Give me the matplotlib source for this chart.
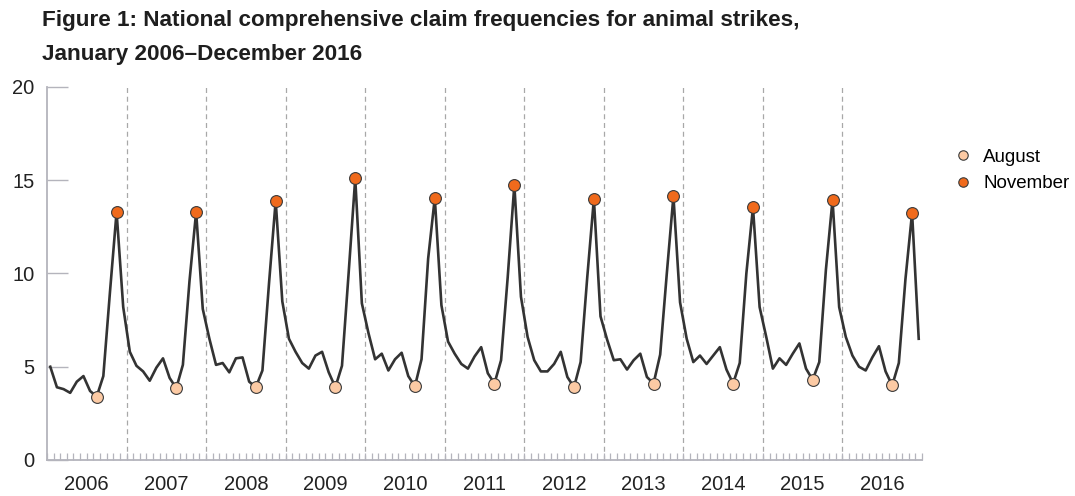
import matplotlib
matplotlib.use("Agg")
import matplotlib.pyplot as plt
import numpy as np

# ---------------------------------------------------------------------------
# Data: monthly claim frequencies, January 2006 - December 2016
# ---------------------------------------------------------------------------

YEARS = [2006, 2007, 2008, 2009, 2010, 2011, 2012, 2013, 2014, 2015, 2016]

CLAIMS = [
    5.0, 3.9, 3.8, 3.6, 4.2, 4.5, 3.7, 3.4, 4.5, 9.0, 13.3, 8.2,        # 2006
    5.8, 5.05, 4.75, 4.25, 4.95, 5.45, 4.4, 3.85, 5.1, 9.6, 13.3, 8.1,  # 2007
    6.5, 5.1, 5.2, 4.7, 5.45, 5.5, 4.2, 3.9, 4.8, 9.5, 13.9, 8.5,       # 2008
    6.5, 5.8, 5.2, 4.9, 5.6, 5.8, 4.7, 3.9, 5.05, 10.0, 15.1, 8.4,      # 2009
    6.8, 5.4, 5.7, 4.8, 5.4, 5.75, 4.5, 3.95, 5.4, 10.8, 14.05, 8.3,    # 2010
    6.35, 5.7, 5.15, 4.9, 5.55, 6.05, 4.65, 4.1, 5.35, 9.8, 14.75, 8.75,  # 2011
    6.6, 5.35, 4.75, 4.75, 5.15, 5.8, 4.45, 3.9, 5.25, 9.8, 14.0, 7.7,  # 2012
    6.45, 5.35, 5.4, 4.85, 5.35, 5.7, 4.45, 4.1, 5.65, 10.0, 14.15, 8.45,  # 2013
    6.5, 5.25, 5.6, 5.15, 5.6, 6.05, 4.85, 4.1, 5.2, 10.0, 13.55, 8.2,  # 2014
    6.6, 4.9, 5.45, 5.1, 5.7, 6.25, 4.9, 4.3, 5.25, 10.2, 13.95, 8.2,   # 2015
    6.6, 5.6, 5.0, 4.8, 5.5, 6.1, 4.75, 4.0, 5.2, 9.7, 13.25, 6.5,      # 2016
]

Y_TICKS = [0, 5, 10, 15, 20]
AUGUST, NOVEMBER = 7, 10  # month index within a year

LINE_COLOR = "#333333"
AXIS_COLOR = "#b4b4bc"
AUG_COLOR = "#fccaa4"
NOV_COLOR = "#f06a1c"

plt.rcParams["font.family"] = ["Liberation Sans", "DejaVu Sans"]

# ---------------------------------------------------------------------------
# Figure
# ---------------------------------------------------------------------------

fig = plt.figure(figsize=(10.75, 4.96), dpi=100)
ax = fig.add_axes([0.0437, 0.0726, 0.814, 0.752])

claims = np.array(CLAIMS)
months = np.arange(len(claims))
n_years = len(YEARS)

ax.plot(months, claims, color=LINE_COLOR, linewidth=1.9, zorder=3)

aug_idx = months[months % 12 == AUGUST]
nov_idx = months[months % 12 == NOVEMBER]
ax.plot(aug_idx, claims[aug_idx], "o", ms=8.5, mfc=AUG_COLOR, mec="#3a3a3a",
        mew=0.8, zorder=4, linestyle="none", label="August")
ax.plot(nov_idx, claims[nov_idx], "o", ms=8.5, mfc=NOV_COLOR, mec="#3a3a3a",
        mew=0.8, zorder=4, linestyle="none", label="November")

# year separators
for k in range(1, n_years):
    ax.axvline(12 * k - 0.5, color="#a8a8a8", linestyle=(0, (4, 3)),
               linewidth=0.9, zorder=1)

ax.set_xlim(-0.5, 12 * n_years - 0.5)
ax.set_ylim(0, 20)

# y axis
ax.set_yticks(Y_TICKS)
ax.set_yticklabels([str(v) for v in Y_TICKS])
ax.tick_params(axis="y", direction="in", length=15, width=1.0, color=AXIS_COLOR,
               pad=9, labelsize=14.5, labelcolor="#222222")

# x axis: year labels (major, no tick mark) and month ticks (minor)
ax.set_xticks([12 * k + 5.5 for k in range(n_years)])
ax.set_xticklabels([str(y) for y in YEARS])
ax.tick_params(axis="x", which="major", length=0, pad=11, labelsize=14.5,
               labelcolor="#222222")
ax.xaxis.remove_overlapping_locs = False
ax.set_xticks(np.arange(12 * n_years + 1) - 0.5, minor=True)
ax.tick_params(axis="x", which="minor", direction="in", length=5, width=0.9,
               color=AXIS_COLOR)

for side in ("top", "right"):
    ax.spines[side].set_visible(False)
for side in ("left", "bottom"):
    ax.spines[side].set_color(AXIS_COLOR)
    ax.spines[side].set_linewidth(1.3)

ax.legend(loc="upper left", bbox_to_anchor=(1.028, 0.855), frameon=False,
          fontsize=13.5, handletextpad=0.55, labelspacing=0.5,
          borderaxespad=0, handlelength=1.0, markerscale=0.8)

fig.text(0.039, 0.979,
         "Figure 1: National comprehensive claim frequencies for animal strikes,\n"
         "January 2006\u2013December 2016",
         ha="left", va="top", fontsize=16.2, fontweight="bold", color="#1e1e1e",
         linespacing=1.8)

fig.savefig("out.png", dpi=100)
